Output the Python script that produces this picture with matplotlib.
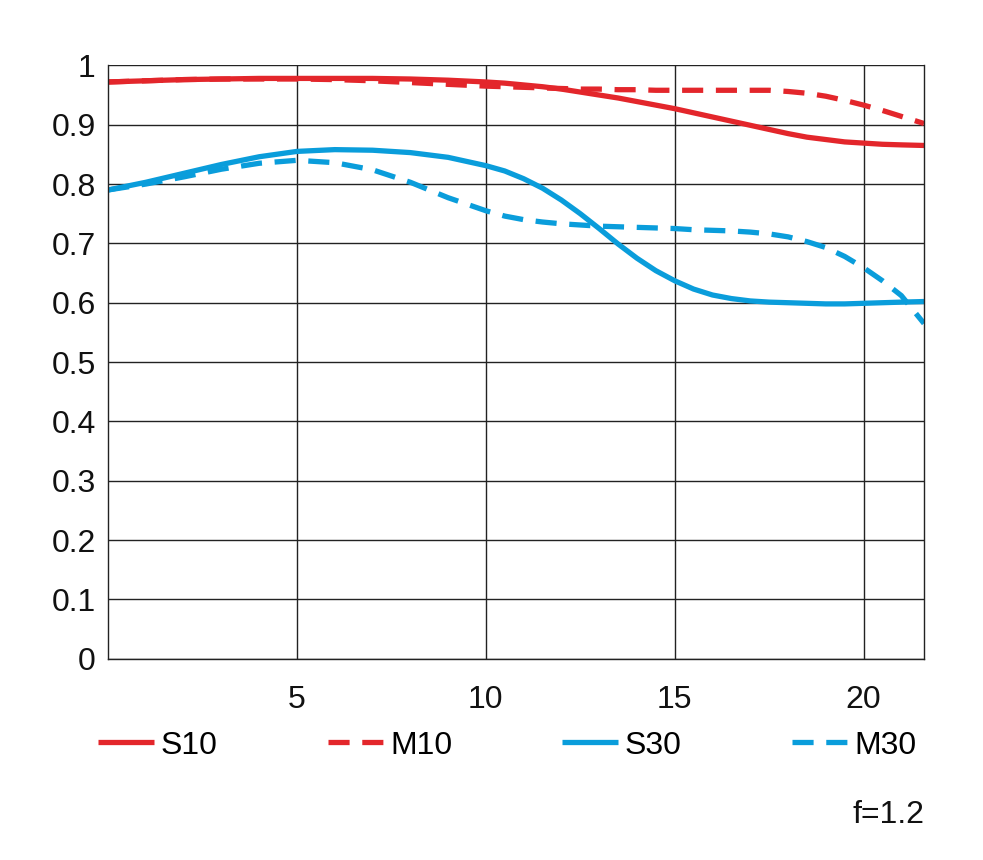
import matplotlib.pyplot as plt

# field position (mm) and MTF values
x = [0, 1, 2, 3, 4, 5, 6, 7, 8, 9, 10, 10.5, 11, 11.5, 12, 12.5, 13, 13.5, 14, 14.5,
     15, 15.5, 16, 16.5, 17, 17.5, 18, 18.5, 19, 19.5, 20, 20.5, 21, 21.6]

s10 = [0.972, 0.974, 0.976, 0.977, 0.978, 0.978, 0.978, 0.978, 0.977, 0.975, 0.972,
       0.970, 0.967, 0.964, 0.960, 0.955, 0.950, 0.945, 0.939, 0.933, 0.927, 0.920,
       0.913, 0.906, 0.899, 0.892, 0.885, 0.879, 0.875, 0.871, 0.869, 0.867, 0.866, 0.865]
m10 = [0.972, 0.974, 0.976, 0.977, 0.977, 0.977, 0.976, 0.974, 0.971, 0.968, 0.965,
       0.964, 0.963, 0.962, 0.961, 0.960, 0.960, 0.959, 0.959, 0.958, 0.958, 0.958,
       0.958, 0.958, 0.958, 0.958, 0.956, 0.953, 0.948, 0.941, 0.933, 0.924, 0.914, 0.902]
s30 = [0.790, 0.803, 0.818, 0.833, 0.846, 0.855, 0.858, 0.857, 0.853, 0.845, 0.831,
       0.822, 0.809, 0.793, 0.773, 0.750, 0.725, 0.699, 0.675, 0.654, 0.637, 0.623,
       0.613, 0.607, 0.603, 0.601, 0.600, 0.599, 0.598, 0.598, 0.599, 0.600, 0.601, 0.602]
m30 = [0.790, 0.800, 0.812, 0.825, 0.835, 0.840, 0.836, 0.824, 0.803, 0.777, 0.755,
       0.746, 0.740, 0.736, 0.733, 0.731, 0.729, 0.728, 0.727, 0.726, 0.725, 0.723,
       0.722, 0.721, 0.719, 0.716, 0.711, 0.703, 0.693, 0.678, 0.659, 0.637, 0.612, 0.565]

labels = ['S10', 'M10', 'S30', 'M30']
x_ticks = [5, 10, 15, 20]
y_ticks = [0, 0.1, 0.2, 0.3, 0.4, 0.5, 0.6, 0.7, 0.8, 0.9, 1]
y_tick_labels = ['0', '0.1', '0.2', '0.3', '0.4', '0.5', '0.6', '0.7', '0.8', '0.9', '1']

RED = '#e3262b'
BLUE = '#0a9ddb'
DASH = (0, (4, 2.4))

plt.rcParams['font.family'] = ['Liberation Sans', 'DejaVu Sans']

fig = plt.figure(figsize=(9.83, 8.6), dpi=100)
ax = fig.add_axes([0.110, 0.234, 0.830, 0.690])

lw = 3.8
ax.plot(x, s10, color=RED, lw=lw, label=labels[0], solid_capstyle='butt')
ax.plot(x, m10, color=RED, lw=lw, linestyle=DASH, label=labels[1], dash_capstyle='butt')
ax.plot(x, s30, color=BLUE, lw=lw, label=labels[2], solid_capstyle='butt')
ax.plot(x, m30, color=BLUE, lw=lw, linestyle=DASH, label=labels[3], dash_capstyle='butt')

ax.set_xlim(0, 21.6)
ax.set_ylim(0, 1)
ax.set_xticks(x_ticks)
ax.set_yticks(y_ticks)
ax.set_yticklabels(y_tick_labels)
ax.tick_params(length=0, labelsize=23, colors='#111111')
ax.tick_params(axis='x', pad=19)
ax.tick_params(axis='y', pad=9)
ax.grid(True, color='#222222', lw=1.0)
ax.set_axisbelow(True)
for side in ['left', 'bottom', 'right']:
    ax.spines[side].set_color('#222222')
    ax.spines[side].set_linewidth(1.0)
ax.spines['top'].set_visible(False)

leg = fig.legend(loc='center', bbox_to_anchor=(0.516, 0.133), ncol=4, frameon=False,
                 fontsize=23, handlelength=1.75, handletextpad=0.2, columnspacing=3.45)

fig.text(0.94, 0.052, 'f=1.2', ha='right', va='center', fontsize=23, color='#111111')

fig.savefig('out.png', dpi=100)
